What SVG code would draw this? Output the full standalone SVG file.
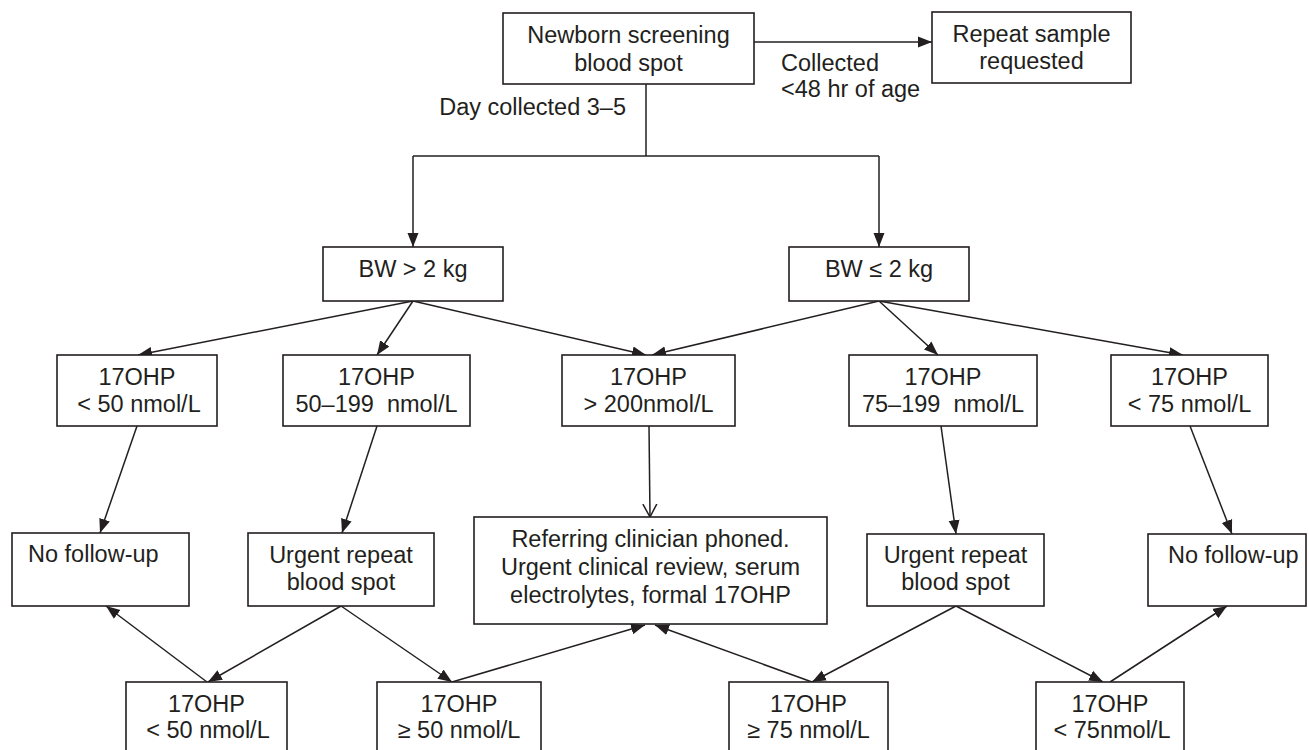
<svg xmlns="http://www.w3.org/2000/svg" width="1309" height="750" viewBox="0 0 1309 750">
<style>
.box{fill:#fff;stroke:#231f20;stroke-width:1.6}
.t{font-family:"Liberation Sans",Arial,sans-serif;font-size:23.5px;fill:#231f20;text-anchor:middle;white-space:pre}
.tl{font-family:"Liberation Sans",Arial,sans-serif;font-size:23.5px;fill:#231f20}
.c{fill:none;stroke:#231f20;stroke-width:1.5}
</style>
<defs>
<marker id="ah" markerUnits="userSpaceOnUse" markerWidth="15" markerHeight="12" refX="14" refY="6" orient="auto">
<path d="M0,0.5 L14,6 L0,11.5 Z" fill="#231f20"/>
</marker>
<marker id="oh" markerUnits="userSpaceOnUse" markerWidth="14" markerHeight="16" refX="13" refY="8" orient="auto">
<path d="M0,1 L13,8 L0,15" fill="none" stroke="#231f20" stroke-width="1.5"/>
</marker>
</defs>
<rect width="1309" height="750" fill="#fff"/>
<g id="connectors">
<line class="c" x1="754" y1="42" x2="932" y2="42" marker-end="url(#ah)"/>
<polyline class="c" points="646,84 646,156"/>
<polyline class="c" points="413,156 879,156"/>
<line class="c" x1="413" y1="156" x2="413" y2="247" marker-end="url(#ah)"/>
<line class="c" x1="879" y1="156" x2="879" y2="247" marker-end="url(#ah)"/>
<line class="c" x1="413" y1="301" x2="138" y2="355" marker-end="url(#ah)"/>
<line class="c" x1="413" y1="301" x2="377" y2="355" marker-end="url(#ah)"/>
<line class="c" x1="413" y1="301" x2="646" y2="355" marker-end="url(#ah)"/>
<line class="c" x1="879" y1="301" x2="652" y2="355" marker-end="url(#ah)"/>
<line class="c" x1="879" y1="301" x2="938" y2="355" marker-end="url(#ah)"/>
<line class="c" x1="879" y1="301" x2="1183" y2="355" marker-end="url(#ah)"/>
<line class="c" x1="137" y1="426" x2="100" y2="533" marker-end="url(#ah)"/>
<line class="c" x1="377" y1="426" x2="342" y2="533" marker-end="url(#ah)"/>
<line class="c" x1="649" y1="426" x2="650" y2="517" marker-end="url(#oh)"/>
<line class="c" x1="941" y1="426" x2="956" y2="534" marker-end="url(#ah)"/>
<line class="c" x1="1190" y1="426" x2="1232" y2="534" marker-end="url(#ah)"/>
<line class="c" x1="341" y1="606" x2="208" y2="682" marker-end="url(#ah)"/>
<line class="c" x1="341" y1="606" x2="452" y2="682" marker-end="url(#ah)"/>
<line class="c" x1="207" y1="682" x2="106" y2="606" marker-end="url(#ah)"/>
<line class="c" x1="452" y1="682" x2="645" y2="625" marker-end="url(#ah)"/>
<line class="c" x1="812" y1="682" x2="655" y2="625" marker-end="url(#ah)"/>
<line class="c" x1="956" y1="606" x2="812" y2="682" marker-end="url(#ah)"/>
<line class="c" x1="956" y1="606" x2="1103" y2="682" marker-end="url(#ah)"/>
<line class="c" x1="1110" y1="682" x2="1227" y2="606" marker-end="url(#ah)"/>
<text class="tl" x="626" y="115" text-anchor="end">Day collected 3–5</text>
<text class="tl" x="781" y="71">Collected</text>
<text class="tl" x="781" y="97">&lt;48 hr of age</text>
</g>
<g id="n-newborn"><rect class="box" x="503" y="13" width="251" height="71"/><text class="t" x="628.5" y="43">Newborn screening</text><text class="t" x="628.5" y="71">blood spot</text></g>
<g id="n-repeat"><rect class="box" x="932" y="12" width="199" height="71"/><text class="t" x="1031.5" y="42">Repeat sample</text><text class="t" x="1031.5" y="69">requested</text></g>
<g id="n-bw-gt2"><rect class="box" x="323" y="247" width="180" height="54"/><text class="t" x="413" y="277">BW &gt; 2 kg</text></g>
<g id="n-bw-le2"><rect class="box" x="789" y="247" width="180" height="54"/><text class="t" x="879" y="277">BW ≤ 2 kg</text></g>
<g id="n-lt50"><rect class="box" x="57" y="355" width="160" height="71"/><text class="t" x="137" y="385">17OHP</text><text class="t" x="139" y="412">&lt; 50 nmol/L</text></g>
<g id="n-50-199"><rect class="box" x="283" y="355" width="187" height="71"/><text class="t" x="376.5" y="385">17OHP</text><text class="t" x="376.5" y="412">50–199  nmol/L</text></g>
<g id="n-gt200"><rect class="box" x="562" y="355" width="173" height="71"/><text class="t" x="648.5" y="385">17OHP</text><text class="t" x="648.5" y="412">&gt; 200nmol/L</text></g>
<g id="n-75-199"><rect class="box" x="849" y="355" width="188" height="71"/><text class="t" x="943" y="385">17OHP</text><text class="t" x="943" y="412">75–199  nmol/L</text></g>
<g id="n-lt75"><rect class="box" x="1111" y="355" width="157" height="71"/><text class="t" x="1189.5" y="385">17OHP</text><text class="t" x="1189.5" y="412">&lt; 75 nmol/L</text></g>
<g id="n-nofollow-l"><rect class="box" x="12" y="533" width="177" height="73"/><text class="tl" x="28" y="562">No follow-up</text></g>
<g id="n-urgent-l"><rect class="box" x="248" y="533" width="186" height="73"/><text class="t" x="341" y="563">Urgent repeat</text><text class="t" x="341" y="590">blood spot</text></g>
<g id="n-referring"><rect class="box" x="474" y="517" width="353" height="107"/><text class="t" x="650.5" y="547">Referring clinician phoned.</text><text class="t" x="650.5" y="575">Urgent clinical review, serum</text><text class="t" x="650.5" y="603">electrolytes, formal 17OHP</text></g>
<g id="n-urgent-r"><rect class="box" x="867" y="534" width="177" height="72"/><text class="t" x="955.5" y="563">Urgent repeat</text><text class="t" x="955.5" y="590">blood spot</text></g>
<g id="n-nofollow-r"><rect class="box" x="1148" y="534" width="158" height="72"/><text class="tl" x="1168" y="563">No follow-up</text></g>
<g id="n-b-lt50"><rect class="box" x="126" y="682" width="161" height="80"/><text class="t" x="206.5" y="712">17OHP</text><text class="t" x="208" y="738">&lt; 50 nmol/L</text></g>
<g id="n-b-ge50"><rect class="box" x="377" y="682" width="164" height="80"/><text class="t" x="459" y="712">17OHP</text><text class="t" x="459" y="738">≥ 50 nmol/L</text></g>
<g id="n-b-ge75"><rect class="box" x="729" y="682" width="159" height="80"/><text class="t" x="808.5" y="712">17OHP</text><text class="t" x="808.5" y="738">≥ 75 nmol/L</text></g>
<g id="n-b-lt75"><rect class="box" x="1036" y="682" width="148" height="80"/><text class="t" x="1110" y="712">17OHP</text><text class="t" x="1112" y="738">&lt; 75nmol/L</text></g>
</svg>
